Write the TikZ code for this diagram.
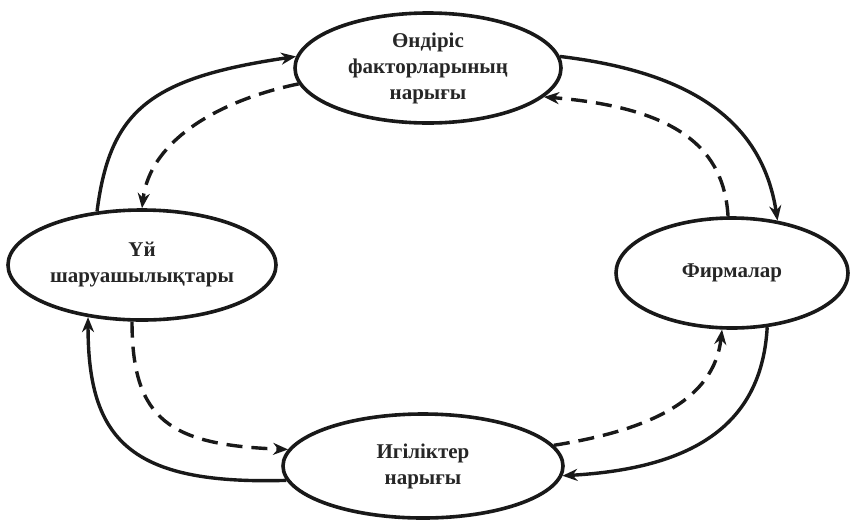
\documentclass[tikz,border=0pt]{standalone}
\usepackage{fontspec}
\setmainfont{Liberation Serif}
\usetikzlibrary{shapes.geometric,arrows.meta}
\begin{document}
\begin{tikzpicture}[x=1pt,y=-1pt,
  market/.style={draw=black!90,line width=3.6pt,ellipse,inner sep=0pt,
    align=center,font=\fontsize{21}{26}\selectfont\bfseries,text=black!85},
  flow/.style={line width=3.4pt,draw=black!90,-{Stealth[length=15pt,width=12pt]}},
  dflow/.style={flow,dash pattern=on 16pt off 9pt}]
\useasboundingbox (0,0) rectangle (850,520);
\node[market,minimum width=266pt,minimum height=110pt] (F) at (428,68) {Өндіріс\\факторларының\\нарығы};
\node[market,minimum width=268pt,minimum height=110pt] (H) at (142,265) {Үй\\шаруашылықтары};
\node[market,minimum width=232pt,minimum height=110pt] (R) at (732,273) {Фирмалар};
\node[market,minimum width=280pt,minimum height=104pt] (G) at (423,466) {Игіліктер\\нарығы};
% solid flows
\draw[flow] (H.130) .. controls (110,110) and (150,78) .. (F.175);
\draw[flow] (F.5) .. controls (690,72) and (762,120) .. (R.49);
\draw[flow] (R.303) .. controls (762,420) and (700,468) .. (G.356);
\draw[flow] (G.186) .. controls (130,485) and (88,440) .. (H.224);
% dashed flows
\draw[dflow] (F.187.5) .. controls (220,100) and (150,140) .. (H.90);
\draw[dflow] (R.94) .. controls (724,150) and (680,108) .. (F.346);
\draw[dflow] (G.9) .. controls (650,430) and (714,400) .. (R.260);
\draw[dflow] (H.260) .. controls (132,420) and (170,445) .. (G.173);
\end{tikzpicture}
\end{document}
